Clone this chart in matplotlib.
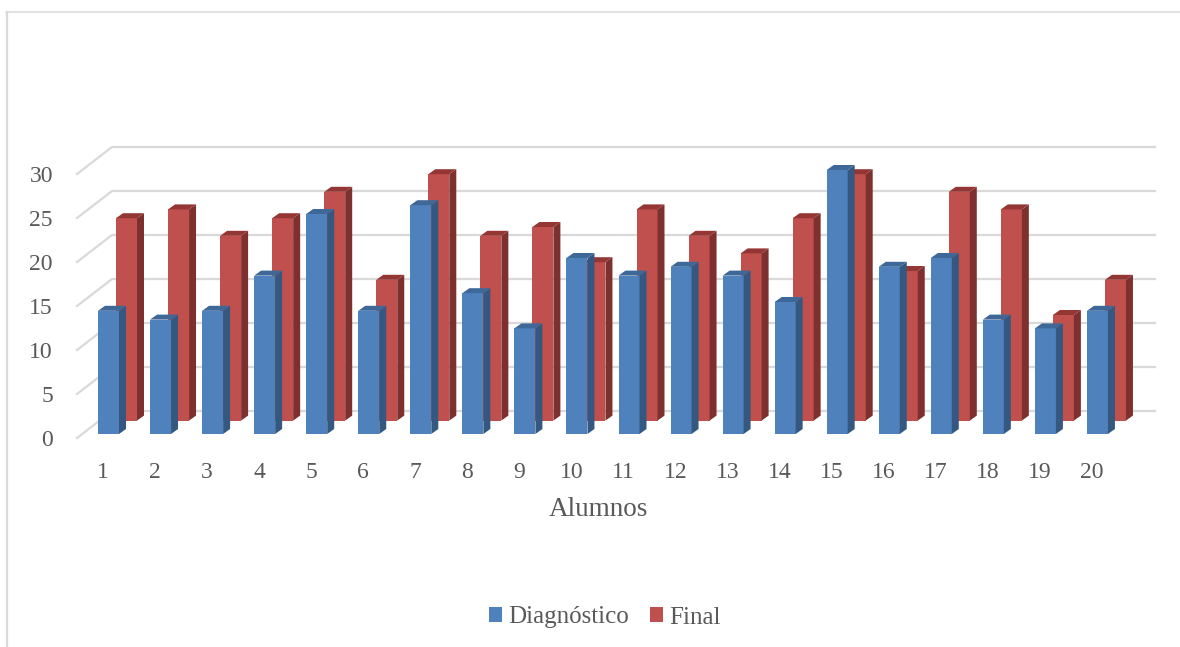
import numpy as np
import matplotlib.pyplot as plt
from matplotlib.lines import Line2D
from matplotlib.patches import Patch, Polygon
from matplotlib.transforms import ScaledTranslation

alumnos = list(range(1, 21))
diagnostico = [14, 13, 14, 18, 25, 14, 26, 16, 12, 20, 18, 19, 18, 15, 30, 19, 20, 13, 12, 14]
final = [23, 24, 21, 23, 26, 16, 28, 21, 22, 18, 24, 21, 19, 23, 28, 17, 26, 24, 12, 16]
yticks = [0, 5, 10, 15, 20, 25, 30]

W, H = 1180, 647
plt.rcParams['font.family'] = ['Liberation Serif', 'DejaVu Serif']
TEXT = '#595959'
GRID = '#D9D9D9'

fig = plt.figure(figsize=(W / 100, H / 100), dpi=100)

# axes box in pixels, y=0 sits on the front edge of the floor
x0, x1, y0, y1 = 78, 1155, 434, 147
ax = fig.add_axes([x0 / W, 1 - y0 / H, (x1 - x0) / W, (y0 - y1) / H])

px_x = 52.05  # pixels per category
px_y = 8.8    # pixels per score point
first_center = 108.5
ax.set_xlim(1 + (x0 - first_center) / px_x, 1 + (x1 - first_center) / px_x)
ax.set_ylim(0, (y0 - y1) / px_y)
for s in ax.spines.values():
    s.set_visible(False)

bar_w = 21 / px_x
dx, dy = 7 / px_x, 5 / px_y              # depth of one bar
back_x, back_y = 18 / px_x, 13.4 / px_y  # second row sits behind the first

# back wall and side wall lines
wall_x = 1 + (112 - first_center) / px_x
side_x = 1 + (77 - first_center) / px_x
floor = 23 / px_y
for v in yticks:
    yb = v + floor
    ax.plot([side_x, wall_x, ax.get_xlim()[1]], [v - 4 / px_y, yb, yb], color=GRID, lw=1.6,
            clip_on=False, zorder=1, solid_joinstyle='miter')


def bar3d(x, v, base, front, side, top, z):
    ax.bar(x, v, bar_w, bottom=base, color=front, edgecolor='none', zorder=z)
    r = x + bar_w / 2
    l = x - bar_w / 2
    ax.add_patch(Polygon([(r, base), (r + dx, base + dy), (r + dx, base + v + dy), (r, base + v)],
                         closed=True, fc=side, ec='none', zorder=z, clip_on=False))
    ax.add_patch(Polygon([(l, base + v), (l + dx, base + v + dy), (r + dx, base + v + dy), (r, base + v)],
                         closed=True, fc=top, ec='none', zorder=z, clip_on=False))


for i, a in enumerate(alumnos):
    bar3d(a + back_x, final[i], back_y, '#C0504D', '#7E302E', '#943634', 2)
for i, a in enumerate(alumnos):
    bar3d(a, diagnostico[i], 0, '#4F81BD', '#34587F', '#3E6898', 3)

ax.set_xticks(alumnos)
ax.set_xticklabels(alumnos)
ax.set_yticks(yticks)
ax.set_yticklabels(yticks)
ax.tick_params(axis='both', length=0, labelsize=17, labelcolor=TEXT)
ax.tick_params(axis='x', pad=20)
ax.tick_params(axis='y', pad=18)
shift_x = ScaledTranslation(-5.5 / 100, 0, fig.dpi_scale_trans)
shift_y = ScaledTranslation(0, -4 / 100, fig.dpi_scale_trans)
for lab in ax.get_xticklabels():
    lab.set_transform(lab.get_transform() + shift_x)
for lab in ax.get_yticklabels():
    lab.set_transform(lab.get_transform() + shift_y)

fig.text(598 / W, 1 - 510 / H, 'Alumnos', ha='center', va='center', fontsize=19.5, color=TEXT)

handles = [Patch(fc='#4F81BD', ec='none', label='Diagnóstico'),
           Patch(fc='#C0504D', ec='none', label='Final')]
fig.legend(handles=handles, loc='center', bbox_to_anchor=(605 / W, 1 - 617.5 / H), ncol=2,
           frameon=False, fontsize=18, labelcolor=TEXT, handlelength=0.52, handleheight=0.52,
           handletextpad=0.24, columnspacing=0.86)

# chart frame, only the left and top edges show
fig.add_artist(Line2D(np.array([7, 7]) / W, 1 - np.array([647, 12]) / H, color=GRID, lw=1.6))
fig.add_artist(Line2D(np.array([6, 1180]) / W, 1 - np.array([12, 12]) / H, color=GRID, lw=1.1))

fig.savefig('out.png', dpi=100)
